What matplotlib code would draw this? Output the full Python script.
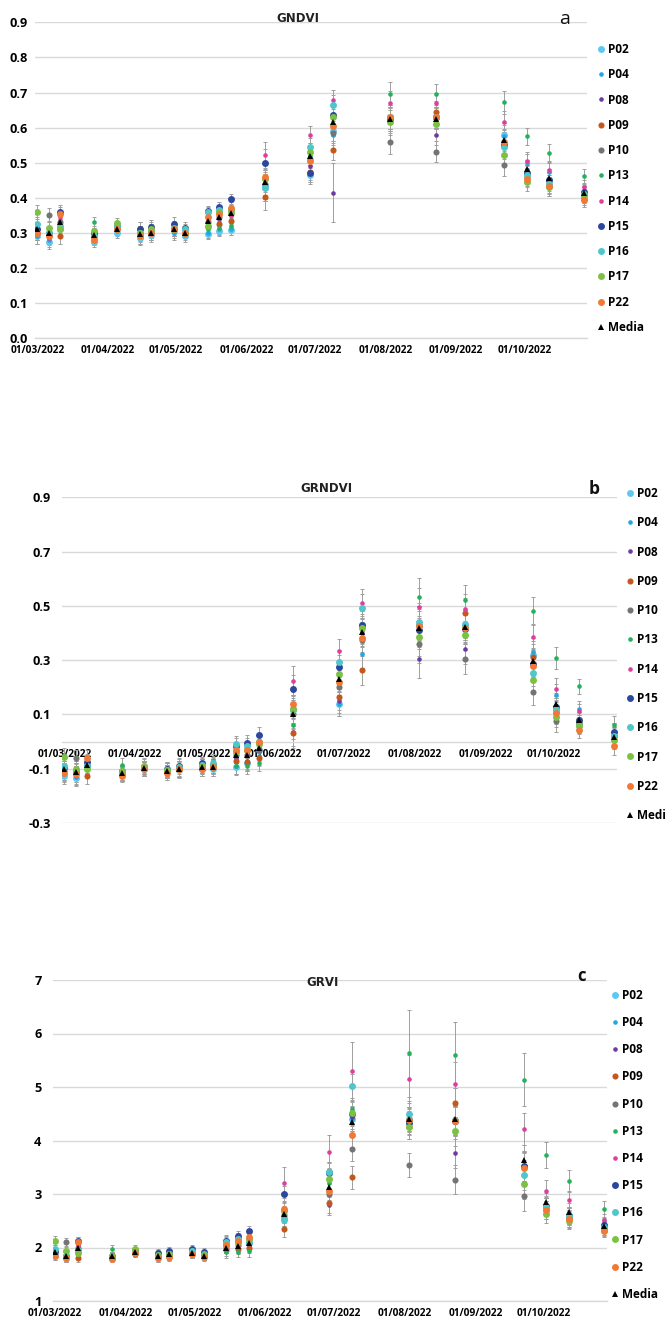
import numpy as np
import matplotlib
matplotlib.use('Agg')
import matplotlib.pyplot as plt
import matplotlib.dates as mdates
from matplotlib.lines import Line2D

plt.rcParams['font.family'] = ['Open Sans', 'DejaVu Sans']

# acquisition dates (Sentinel-2 passes)
dates = np.array(['2022-03-01', '2022-03-06', '2022-03-11', '2022-03-26', '2022-04-05',
                  '2022-04-15', '2022-04-20', '2022-04-30', '2022-05-05', '2022-05-15',
                  '2022-05-20', '2022-05-25', '2022-06-09', '2022-06-29', '2022-07-09',
                  '2022-08-03', '2022-08-23', '2022-09-22', '2022-10-02', '2022-10-12',
                  '2022-10-27'], dtype='datetime64[D]')

plots = ['P02', 'P04', 'P08', 'P09', 'P10', 'P13', 'P14', 'P15', 'P16', 'P17', 'P22']
colors = {'P02': '#5EC8F2', 'P04': '#1EA8E4', 'P08': '#6E3CA0', 'P09': '#C4581C',
          'P10': '#747474', 'P13': '#22B25A', 'P14': '#DE3F9E', 'P15': '#2D479C',
          'P16': '#4FC6CC', 'P17': '#7CC145', 'P22': '#F07A35'}
sizes = {'P02': 5.0, 'P04': 3.3, 'P08': 3.3, 'P09': 4.4, 'P10': 4.4, 'P13': 3.3,
         'P14': 3.3, 'P15': 5.0, 'P16': 5.0, 'P17': 5.0, 'P22': 5.0}

# ---------------- GNDVI ----------------
gndvi = {
    'P02': [0.29, 0.275, 0.31, 0.275, 0.30, 0.285, 0.295, 0.305, 0.29, 0.297, 0.305, 0.308, 0.435, 0.465, 0.59, 0.63, 0.63, 0.58, 0.47, 0.45, 0.415],
    'P04': [0.29, 0.28, 0.31, 0.28, 0.305, 0.29, 0.30, 0.30, 0.295, 0.30, 0.31, 0.31, 0.43, 0.47, 0.578, 0.625, 0.625, 0.575, 0.50, 0.475, 0.41],
    'P08': [0.30, 0.295, 0.335, 0.29, 0.31, 0.295, 0.30, 0.31, 0.30, 0.33, 0.34, 0.35, 0.44, 0.49, 0.415, 0.62, 0.58, 0.555, 0.48, 0.445, 0.42],
    'P09': [0.30, 0.29, 0.29, 0.285, 0.31, 0.31, 0.305, 0.31, 0.30, 0.318, 0.325, 0.333, 0.402, 0.475, 0.535, 0.63, 0.645, 0.555, 0.46, 0.44, 0.40],
    'P10': [0.31, 0.352, 0.33, 0.295, 0.31, 0.30, 0.30, 0.31, 0.30, 0.33, 0.345, 0.355, 0.44, 0.51, 0.585, 0.56, 0.532, 0.495, 0.47, 0.43, 0.41],
    'P13': [0.31, 0.31, 0.315, 0.33, 0.31, 0.30, 0.30, 0.31, 0.30, 0.312, 0.313, 0.32, 0.43, 0.52, 0.64, 0.695, 0.695, 0.672, 0.575, 0.528, 0.462],
    'P14': [0.30, 0.285, 0.345, 0.29, 0.315, 0.30, 0.30, 0.31, 0.30, 0.34, 0.35, 0.35, 0.522, 0.58, 0.68, 0.67, 0.67, 0.616, 0.505, 0.48, 0.43],
    'P15': [0.31, 0.30, 0.36, 0.30, 0.32, 0.31, 0.318, 0.325, 0.315, 0.362, 0.373, 0.397, 0.50, 0.47, 0.635, 0.625, 0.63, 0.55, 0.47, 0.45, 0.418],
    'P16': [0.325, 0.30, 0.32, 0.29, 0.32, 0.30, 0.305, 0.315, 0.31, 0.36, 0.365, 0.365, 0.428, 0.545, 0.665, 0.63, 0.63, 0.544, 0.465, 0.44, 0.41],
    'P17': [0.36, 0.315, 0.31, 0.305, 0.328, 0.30, 0.31, 0.31, 0.30, 0.32, 0.36, 0.36, 0.455, 0.53, 0.63, 0.615, 0.61, 0.523, 0.445, 0.43, 0.405],
    'P22': [0.30, 0.29, 0.355, 0.28, 0.31, 0.29, 0.30, 0.31, 0.30, 0.345, 0.355, 0.372, 0.46, 0.505, 0.605, 0.63, 0.63, 0.56, 0.455, 0.435, 0.395],
}
gndvi_mean = [0.31, 0.30, 0.33, 0.295, 0.31, 0.298, 0.30, 0.31, 0.30, 0.335, 0.345, 0.357, 0.445, 0.518, 0.615, 0.625, 0.625, 0.565, 0.483, 0.456, 0.415]
gndvi_sd = [0.02, 0.02, 0.02, 0.015, 0.015, 0.02, 0.02, 0.02, 0.015, 0.015, 0.015, 0.015, 0.038, 0.025, 0.028, 0.035, 0.03, 0.032, 0.025, 0.025, 0.02]
gndvi_sd_p08 = [0.02, 0.02, 0.02, 0.015, 0.015, 0.02, 0.02, 0.02, 0.015, 0.015, 0.015, 0.015, 0.038, 0.025, 0.085, 0.035, 0.03, 0.032, 0.025, 0.025, 0.02]

# ---------------- GRNDVI ----------------
grndvi = {
    'P02': [-0.125, -0.135, -0.09, -0.12, -0.10, -0.11, -0.105, -0.10, -0.10, -0.093, -0.08, -0.03, 0.12, 0.14, 0.43, 0.43, 0.435, 0.32, 0.12, 0.07, 0.02],
    'P04': [-0.12, -0.13, -0.09, -0.12, -0.10, -0.11, -0.10, -0.10, -0.10, -0.09, -0.08, -0.04, 0.11, 0.138, 0.322, 0.43, 0.43, 0.33, 0.172, 0.12, 0.02],
    'P08': [-0.10, -0.11, -0.08, -0.115, -0.10, -0.105, -0.10, -0.095, -0.09, -0.06, -0.07, -0.055, 0.035, 0.15, 0.40, 0.304, 0.342, 0.29, 0.12, 0.08, 0.03],
    'P09': [-0.11, -0.12, -0.125, -0.12, -0.10, -0.11, -0.10, -0.10, -0.095, -0.07, -0.075, -0.06, 0.03, 0.163, 0.262, 0.43, 0.475, 0.31, 0.11, 0.07, 0.02],
    'P10': [-0.10, -0.06, -0.085, -0.11, -0.095, -0.10, -0.10, -0.09, -0.09, -0.05, -0.05, -0.03, 0.10, 0.20, 0.374, 0.358, 0.305, 0.184, 0.075, 0.06, 0.02],
    'P13': [-0.10, -0.10, -0.10, -0.085, -0.085, -0.11, -0.10, -0.09, -0.07, -0.09, -0.09, -0.078, 0.06, 0.24, 0.41, 0.532, 0.521, 0.481, 0.309, 0.204, 0.061],
    'P14': [-0.11, -0.125, -0.08, -0.115, -0.10, -0.105, -0.10, -0.09, -0.09, -0.04, -0.04, -0.02, 0.225, 0.334, 0.509, 0.496, 0.489, 0.385, 0.193, 0.112, 0.035],
    'P15': [-0.095, -0.11, -0.075, -0.11, -0.095, -0.10, -0.09, -0.08, -0.085, -0.015, -0.005, 0.025, 0.192, 0.275, 0.428, 0.41, 0.415, 0.287, 0.128, 0.08, 0.036],
    'P16': [-0.09, -0.11, -0.09, -0.115, -0.095, -0.105, -0.095, -0.085, -0.08, -0.01, -0.015, 0.0, 0.115, 0.294, 0.493, 0.441, 0.43, 0.254, 0.12, 0.057, 0.02],
    'P17': [-0.055, -0.10, -0.10, -0.11, -0.09, -0.105, -0.10, -0.09, -0.09, -0.04, -0.03, -0.01, 0.12, 0.249, 0.417, 0.387, 0.391, 0.227, 0.092, 0.06, 0.006],
    'P22': [-0.115, -0.12, -0.06, -0.125, -0.10, -0.115, -0.10, -0.10, -0.095, -0.03, -0.03, -0.003, 0.14, 0.218, 0.382, 0.427, 0.42, 0.278, 0.104, 0.041, -0.017],
}
grndvi_mean = [-0.10, -0.113, -0.085, -0.115, -0.098, -0.11, -0.10, -0.095, -0.092, -0.05, -0.05, -0.025, 0.101, 0.229, 0.405, 0.42, 0.423, 0.296, 0.138, 0.079, 0.018]
grndvi_sd = [0.03, 0.03, 0.03, 0.025, 0.025, 0.025, 0.03, 0.025, 0.025, 0.03, 0.03, 0.03, 0.052, 0.045, 0.052, 0.07, 0.055, 0.05, 0.04, 0.028, 0.033]

# ---------------- GRVI ----------------
grvi = {
    'P02': [1.90, 1.80, 1.95, 1.80, 1.90, 1.82, 1.85, 1.90, 1.85, 2.12, 2.18, 2.08, 2.55, 3.42, 4.40, 4.40, 4.37, 3.50, 2.75, 2.60, 2.40],
    'P04': [1.88, 1.82, 1.95, 1.80, 1.90, 1.83, 1.85, 1.88, 1.84, 2.00, 2.05, 2.05, 2.55, 3.30, 4.40, 4.40, 4.35, 3.50, 2.80, 2.60, 2.38],
    'P08': [1.90, 1.85, 2.05, 1.82, 1.90, 1.85, 1.86, 1.88, 1.84, 2.00, 2.00, 2.03, 2.60, 2.79, 4.43, 4.35, 3.76, 3.50, 2.75, 2.60, 2.45],
    'P09': [1.85, 1.82, 1.81, 1.80, 1.88, 1.88, 1.86, 1.88, 1.84, 1.95, 1.98, 2.00, 2.34, 2.83, 3.31, 4.25, 4.71, 3.52, 2.70, 2.55, 2.35],
    'P10': [1.92, 2.10, 2.00, 1.83, 1.90, 1.84, 1.86, 1.88, 1.84, 2.00, 2.05, 2.08, 2.60, 3.00, 3.84, 3.54, 3.27, 2.96, 2.75, 2.55, 2.35],
    'P13': [1.93, 1.90, 1.90, 1.98, 1.92, 1.80, 1.85, 1.88, 1.85, 1.91, 1.92, 1.93, 2.55, 3.20, 4.59, 5.63, 5.60, 5.14, 3.73, 3.25, 2.72],
    'P14': [1.90, 1.80, 2.05, 1.83, 1.90, 1.84, 1.86, 1.88, 1.84, 2.00, 2.05, 2.10, 3.21, 3.79, 5.30, 5.15, 5.06, 4.22, 3.06, 2.88, 2.51],
    'P15': [1.93, 1.85, 2.12, 1.85, 1.95, 1.90, 1.93, 1.97, 1.92, 2.13, 2.21, 2.31, 3.00, 3.40, 4.50, 4.33, 4.36, 3.52, 2.78, 2.58, 2.42],
    'P16': [1.97, 1.85, 1.95, 1.82, 1.93, 1.84, 1.88, 1.93, 1.88, 2.10, 2.15, 2.10, 2.51, 3.42, 5.02, 4.50, 4.38, 3.36, 2.75, 2.58, 2.38],
    'P17': [2.13, 1.94, 1.90, 1.85, 1.98, 1.86, 1.88, 1.88, 1.86, 2.05, 2.10, 2.15, 2.68, 3.28, 4.51, 4.26, 4.17, 3.19, 2.62, 2.50, 2.33],
    'P22': [1.85, 1.80, 2.11, 1.78, 1.90, 1.80, 1.83, 1.88, 1.82, 2.05, 2.12, 2.20, 2.72, 3.06, 4.10, 4.38, 4.37, 3.48, 2.70, 2.53, 2.31],
}
grvi_mean = [1.92, 1.85, 1.99, 1.84, 1.91, 1.84, 1.87, 1.89, 1.84, 1.99, 2.02, 2.09, 2.62, 3.14, 4.35, 4.40, 4.40, 3.63, 2.85, 2.67, 2.40]
grvi_sd = [0.08, 0.07, 0.08, 0.06, 0.06, 0.07, 0.08, 0.08, 0.07, 0.10, 0.10, 0.10, 0.15, 0.18, 0.22, 0.23, 0.27, 0.28, 0.17, 0.16, 0.11]
grvi_sd_p13 = [0.08, 0.07, 0.08, 0.06, 0.06, 0.07, 0.08, 0.08, 0.07, 0.10, 0.10, 0.10, 0.20, 0.25, 0.45, 0.81, 0.62, 0.49, 0.25, 0.19, 0.15]
grvi_sd_p14 = [0.08, 0.07, 0.08, 0.06, 0.06, 0.07, 0.08, 0.08, 0.07, 0.10, 0.10, 0.10, 0.29, 0.32, 0.55, 0.45, 0.40, 0.30, 0.20, 0.15, 0.12]

W, H = 666, 1318
fig = plt.figure(figsize=(W / 100, H / 100), dpi=100)


def px_rect(x0, y0, x1, y1):
    return [x0 / W, 1 - y1 / H, (x1 - x0) / W, (y1 - y0) / H]


panels = [
    dict(data=gndvi, mean=gndvi_mean, sd=gndvi_sd, sd_extra={'P08': gndvi_sd_p08},
         rect=px_rect(35, 22.3, 587, 338.3), ylim=(0, 0.9), yticks=np.arange(0, 0.91, 0.1),
         fmt='%.1f', title='GNDVI', title_xy=(298, 18), tag='a', tag_xy=(565, 19),
         tag_weight='normal', tag_size=14, leg_xy=(596, 43), leg_space=1.04, ypad=5.0, zero=False),
    dict(data=grndvi, mean=grndvi_mean, sd=grndvi_sd, sd_extra={},
         rect=px_rect(62, 497.3, 617, 823), ylim=(-0.3, 0.9), yticks=np.arange(-0.3, 0.91, 0.2),
         fmt='%.1f', title='GRNDVI', title_xy=(326, 488), tag='b', tag_xy=(594, 489),
         tag_weight='bold', tag_size=12.5, leg_xy=(625, 487), leg_space=1.38, ypad=8.0, zero=True),
    dict(data=grvi, mean=grvi_mean, sd=grvi_sd, sd_extra={'P13': grvi_sd_p13, 'P14': grvi_sd_p14},
         rect=px_rect(52.7, 980, 607, 1301), ylim=(1, 7), yticks=np.arange(1, 8, 1),
         fmt='%d', title='GRVI', title_xy=(323, 982), tag='c', tag_xy=(582, 976),
         tag_weight='bold', tag_size=12, leg_xy=(610, 989), leg_space=1.2, ypad=8.0, zero=False),
]

grid_col = '#D9D9D9'
err_col = '#9E9E9E'
x0 = mdates.date2num(np.datetime64('2022-03-01'))
month_ticks = [mdates.date2num(np.datetime64('2022-%02d-01' % m)) for m in range(3, 11)]

for p in panels:
    ax = fig.add_axes(p['rect'])
    # error bars underneath, then the markers
    for name in plots:
        sd = p['sd_extra'].get(name, p['sd'])
        ax.errorbar(dates, p['data'][name], yerr=sd, fmt='none', ecolor=err_col,
                    elinewidth=0.7, capsize=1.3, capthick=0.7, zorder=2)
    ax.errorbar(dates, p['mean'], yerr=p['sd'], fmt='none', ecolor=err_col,
                elinewidth=0.7, capsize=1.3, capthick=0.7, zorder=2)
    for name in plots:
        ax.plot(dates, p['data'][name], 'o', ms=sizes[name], color=colors[name],
                mew=0, zorder=3)
    ax.plot(dates, p['mean'], '^', ms=5, color='black', mew=0, zorder=4)

    ax.set_xlim(x0 - 1, x0 + 241.5)
    ax.set_ylim(*p['ylim'])
    ax.set_yticks(p['yticks'])
    ax.yaxis.set_major_formatter(plt.FormatStrFormatter(p['fmt']))
    ax.set_xticks(month_ticks)
    ax.xaxis.set_major_formatter(mdates.DateFormatter('%d/%m/%Y'))
    ax.grid(axis='y', color=grid_col, linewidth=1.0, zorder=0)
    ax.set_axisbelow(True)
    for s in ['top', 'right', 'left']:
        ax.spines[s].set_visible(False)
    ax.spines['bottom'].set_color(grid_col)
    ax.spines['bottom'].set_linewidth(1.0)
    if p['zero']:
        ax.spines['bottom'].set_position(('data', 0))
    ax.tick_params(axis='both', length=0)
    ax.tick_params(axis='y', pad=p['ypad'], labelsize=9.2)
    ax.tick_params(axis='x', pad=5.0, labelsize=7.3)
    for lab in ax.get_xticklabels() + ax.get_yticklabels():
        lab.set_fontweight('bold')

    fig.text(p['title_xy'][0] / W, 1 - p['title_xy'][1] / H, p['title'],
             ha='center', va='center', fontsize=8.5, color='#222222',
             family=['Liberation Sans Narrow', 'DejaVu Sans'], fontweight='bold')
    fig.text(p['tag_xy'][0] / W, 1 - p['tag_xy'][1] / H, p['tag'],
             ha='center', va='center', fontsize=p['tag_size'], fontweight=p['tag_weight'],
             color='#111111')

    handles = [Line2D([], [], ls='none', marker='o', ms=sizes[n], color=colors[n], mew=0)
               for n in plots]
    handles.append(Line2D([], [], ls='none', marker='^', ms=5, color='black', mew=0))
    leg = ax.legend(handles, plots + ['Media'], loc='upper left',
                    bbox_to_anchor=(p['leg_xy'][0] / W, 1 - p['leg_xy'][1] / H),
                    bbox_transform=fig.transFigure, frameon=False, borderpad=0,
                    borderaxespad=0, handlelength=0.8, handletextpad=0.25,
                    labelspacing=p['leg_space'], prop={'weight': 'bold', 'size': 8.5})
    leg.set_clip_on(False)

fig.savefig('out.png', dpi=100)
